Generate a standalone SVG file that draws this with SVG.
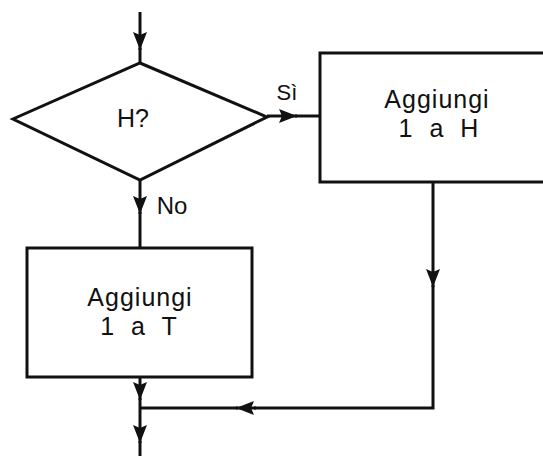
<svg xmlns="http://www.w3.org/2000/svg" width="543" height="456" viewBox="0 0 543 456">
<style>
.s{fill:#fff;stroke:#111;stroke-width:3;stroke-linejoin:miter}
.c{fill:none;stroke:#111;stroke-width:3}
.t{font-family:"Liberation Sans","DejaVu Sans",sans-serif;fill:#111;text-anchor:middle}
.b{font-size:25px;letter-spacing:1px}
.n{font-size:25px;letter-spacing:5px}
</style>
<defs>
<marker id="ah" markerUnits="userSpaceOnUse" markerWidth="18" markerHeight="16" refX="18" refY="7" orient="auto">
<path d="M0,0 L18,7 L0,14 L3,7 z" fill="#111"/>
</marker>
</defs>
<rect width="543" height="456" fill="#fff"/>
<g id="decision">
<polygon class="s" points="140,63 267,117 140,180 13,119"/>
<text class="t" x="133" y="127" font-size="25">H?</text>
</g>
<g id="box-h">
<rect class="s" x="320" y="53" width="250" height="129"/>
<text class="t b" x="437" y="108">Aggiungi</text>
<text class="t n" x="441" y="137">1 a H</text>
</g>
<g id="box-t">
<rect class="s" x="27" y="248" width="225" height="129"/>
<text class="t b" x="140" y="306">Aggiungi</text>
<text class="t n" x="141" y="335">1 a T</text>
</g>
<g id="connectors">
<line class="c" x1="140" y1="12" x2="140" y2="50" marker-end="url(#ah)"/>
<line class="c" x1="140" y1="48" x2="140" y2="63"/>
<line class="c" x1="267" y1="116" x2="297" y2="116" marker-end="url(#ah)"/>
<line class="c" x1="295" y1="116" x2="320" y2="116"/>
<line class="c" x1="140" y1="180" x2="140" y2="214" marker-end="url(#ah)"/>
<line class="c" x1="140" y1="212" x2="140" y2="248"/>
<line class="c" x1="433" y1="182" x2="433" y2="287" marker-end="url(#ah)"/>
<polyline class="c" points="433,285 433,408 254,408"/>
<line class="c" x1="256" y1="408" x2="236" y2="408" marker-end="url(#ah)"/>
<line class="c" x1="238" y1="408" x2="140" y2="408"/>
<line class="c" x1="140" y1="377" x2="140" y2="400" marker-end="url(#ah)"/>
<line class="c" x1="140" y1="398" x2="140" y2="443" marker-end="url(#ah)"/>
<line class="c" x1="140" y1="441" x2="140" y2="456"/>
</g>
<text class="t" x="287" y="100" font-size="22">Sì</text>
<text class="t" x="172" y="214" font-size="24">No</text>
</svg>
